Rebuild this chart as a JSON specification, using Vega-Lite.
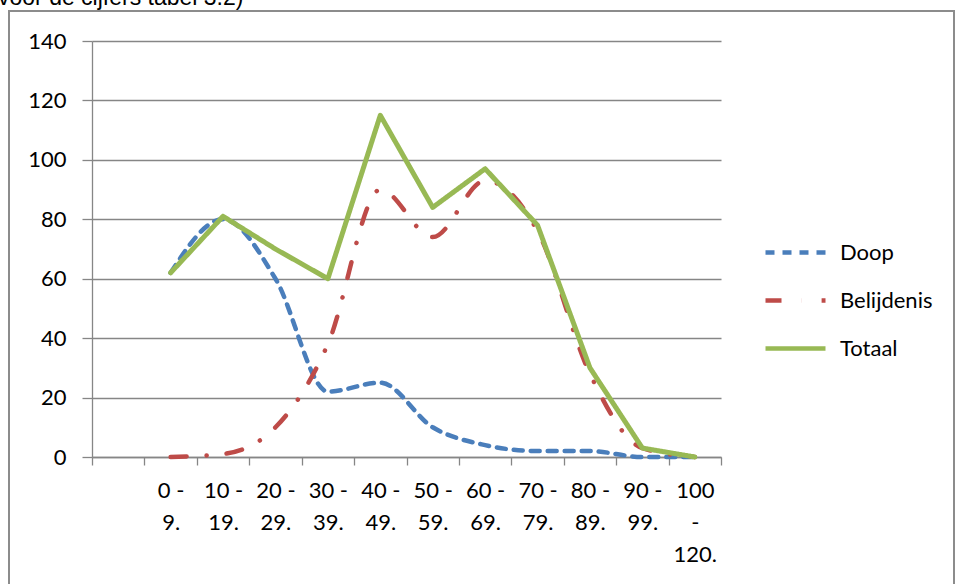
{
  "$schema": "https://vega.github.io/schema/vega-lite/v6.json",
  "width": 945,
  "height": 575,
  "autosize": {"type": "none"},
  "padding": {"left": 9, "top": 11, "right": 2, "bottom": -2},
  "background": "white",
  "title": {
    "text": "voor de cijfers tabel 3.2)",
    "anchor": "start",
    "frame": "group",
    "font": "Liberation Sans",
    "fontSize": 23,
    "fontWeight": "normal",
    "color": "#000000",
    "baseline": "alphabetic",
    "offset": 0,
    "dx": -11,
    "dy": 17
  },
  "config": {
    "view": {"stroke": "#8c8c8c", "strokeWidth": 2},
    "font": "Lato"
  },
  "data": {
    "values": [
      {"klasse": "0 - 9.", "reeks": "Doop", "aantal": 62},
      {"klasse": "10 - 19.", "reeks": "Doop", "aantal": 80},
      {"klasse": "20 - 29.", "reeks": "Doop", "aantal": 60},
      {"klasse": "30 - 39.", "reeks": "Doop", "aantal": 22},
      {"klasse": "40 - 49.", "reeks": "Doop", "aantal": 25},
      {"klasse": "50 - 59.", "reeks": "Doop", "aantal": 10},
      {"klasse": "60 - 69.", "reeks": "Doop", "aantal": 4},
      {"klasse": "70 - 79.", "reeks": "Doop", "aantal": 2},
      {"klasse": "80 - 89.", "reeks": "Doop", "aantal": 2},
      {"klasse": "90 - 99.", "reeks": "Doop", "aantal": 0},
      {"klasse": "100 - 120.", "reeks": "Doop", "aantal": 0},
      {"klasse": "0 - 9.", "reeks": "Belijdenis", "aantal": 0},
      {"klasse": "10 - 19.", "reeks": "Belijdenis", "aantal": 1},
      {"klasse": "20 - 29.", "reeks": "Belijdenis", "aantal": 10},
      {"klasse": "30 - 39.", "reeks": "Belijdenis", "aantal": 38},
      {"klasse": "40 - 49.", "reeks": "Belijdenis", "aantal": 90},
      {"klasse": "50 - 59.", "reeks": "Belijdenis", "aantal": 74},
      {"klasse": "60 - 69.", "reeks": "Belijdenis", "aantal": 93},
      {"klasse": "70 - 79.", "reeks": "Belijdenis", "aantal": 76},
      {"klasse": "80 - 89.", "reeks": "Belijdenis", "aantal": 28},
      {"klasse": "90 - 99.", "reeks": "Belijdenis", "aantal": 3},
      {"klasse": "100 - 120.", "reeks": "Belijdenis", "aantal": 0},
      {"klasse": "0 - 9.", "reeks": "Totaal", "aantal": 62},
      {"klasse": "10 - 19.", "reeks": "Totaal", "aantal": 81},
      {"klasse": "20 - 29.", "reeks": "Totaal", "aantal": 70},
      {"klasse": "30 - 39.", "reeks": "Totaal", "aantal": 60},
      {"klasse": "40 - 49.", "reeks": "Totaal", "aantal": 115},
      {"klasse": "50 - 59.", "reeks": "Totaal", "aantal": 84},
      {"klasse": "60 - 69.", "reeks": "Totaal", "aantal": 97},
      {"klasse": "70 - 79.", "reeks": "Totaal", "aantal": 78},
      {"klasse": "80 - 89.", "reeks": "Totaal", "aantal": 30},
      {"klasse": "90 - 99.", "reeks": "Totaal", "aantal": 3},
      {"klasse": "100 - 120.", "reeks": "Totaal", "aantal": 0}
    ]
  },
  "encoding": {
    "x": {
      "field": "klasse",
      "type": "ordinal",
      "sort": null,
      "bandPosition": 0.5,
      "scale": {
        "type": "band",
        "domain": [" ", "0 - 9.", "10 - 19.", "20 - 29.", "30 - 39.", "40 - 49.", "50 - 59.", "60 - 69.", "70 - 79.", "80 - 89.", "90 - 99.", "100 - 120."],
        "range": [83, 712],
        "paddingInner": 0,
        "paddingOuter": 0
      },
      "axis": {
        "title": null,
        "orient": "bottom",
        "offset": -129,
        "tickBand": "extent",
        "grid": false,
        "domainColor": "#868686",
        "domainWidth": 1.3,
        "tickColor": "#868686",
        "tickWidth": 1.3,
        "tickSize": 8,
        "labelFont": "Lato",
        "labelFontSize": 22,
        "labelColor": "#000000",
        "labelAngle": 0,
        "labelPadding": 15,
        "labelLineHeight": 32,
        "labelOverlap": false,
        "labelExpr": "datum.label == '100 - 120.' ? ['100', '-', '120.'] : (indexof(datum.label + '', ' - ') > 0 ? [split(datum.label + '', ' - ')[0] + ' -', split(datum.label + '', ' - ')[1]] : '')"
      }
    },
    "y": {
      "field": "aantal",
      "type": "quantitative",
      "scale": {"domain": [0, 140], "range": [446, 30], "nice": false},
      "axis": {
        "title": null,
        "values": [0, 20, 40, 60, 80, 100, 120, 140],
        "offset": -83,
        "grid": true,
        "gridColor": "#868686",
        "gridWidth": 1.3,
        "domainColor": "#868686",
        "domainWidth": 1.3,
        "tickColor": "#868686",
        "tickWidth": 1.3,
        "tickSize": 10,
        "labelFont": "Lato",
        "labelFontSize": 22,
        "labelColor": "#000000",
        "labelPadding": 16
      }
    },
    "color": {
      "field": "reeks",
      "type": "nominal",
      "scale": {"domain": ["Doop", "Belijdenis", "Totaal"], "range": ["#4A7EBB", "#BE4B48", "#98B954"]},
      "legend": {
        "title": null,
        "orient": "none",
        "legendX": 754,
        "legendY": 209,
        "padding": 0,
        "symbolType": "stroke",
        "symbolSize": 3600,
        "symbolStrokeWidth": 4.5,
        "labelFont": "Lato",
        "labelFontSize": 22,
        "labelColor": "#000000",
        "labelOffset": 12,
        "rowPadding": 4
      }
    },
    "strokeDash": {
      "field": "reeks",
      "type": "nominal",
      "scale": {"domain": ["Doop", "Belijdenis", "Totaal"], "range": [[9, 8], [16, 20, 0.1, 20], [1, 0]]}
    }
  },
  "layer": [
    {
      "transform": [{"filter": "datum.reeks != 'Totaal'"}],
      "mark": {"type": "line", "strokeWidth": 4.5, "strokeCap": "round", "strokeJoin": "round", "interpolate": "monotone"}
    },
    {
      "transform": [{"filter": "datum.reeks == 'Totaal'"}],
      "mark": {"type": "line", "strokeWidth": 5, "strokeCap": "round", "strokeJoin": "round"}
    }
  ]
}
